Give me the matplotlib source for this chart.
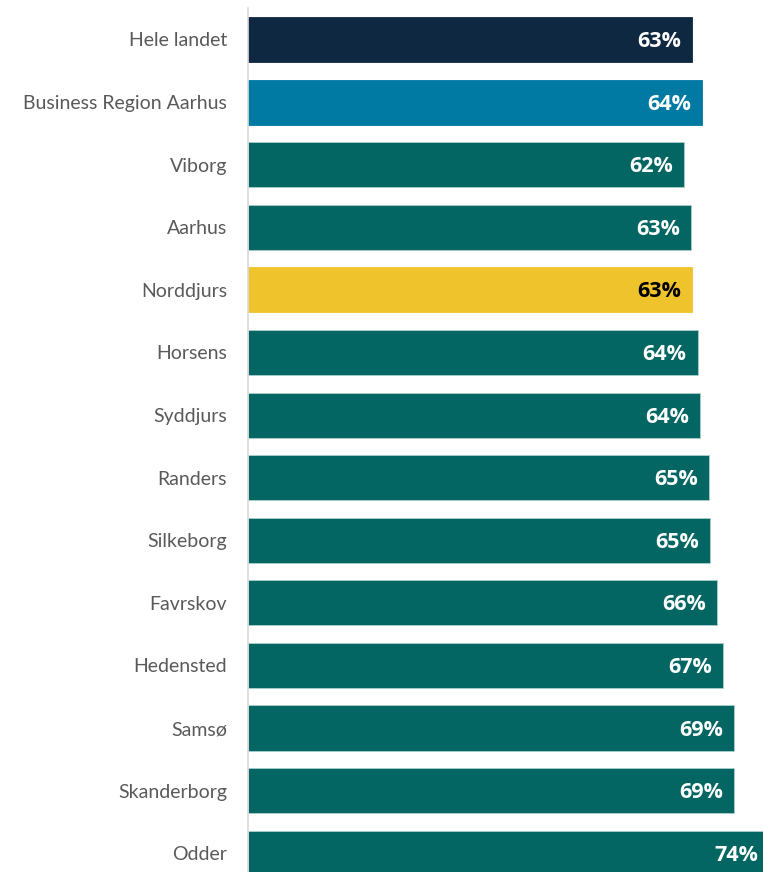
import matplotlib.pyplot as plt
import numpy as np

# data
names = ['Hele landet', 'Business Region Aarhus', 'Viborg', 'Aarhus', 'Norddjurs',
         'Horsens', 'Syddjurs', 'Randers', 'Silkeborg', 'Favrskov', 'Hedensted',
         'Samsø', 'Skanderborg', 'Odder']
values = [62.8, 64.2, 61.7, 62.7, 62.8, 63.6, 63.9, 65.2, 65.3, 66.3, 67.2,
          68.7, 68.7, 73.8]
shown = ['63%', '64%', '62%', '63%', '63%', '64%', '64%', '65%', '65%', '66%',
         '67%', '69%', '69%', '74%']

teal = '#036663'
colors = ['#0f2841', '#007aa3', teal, teal, '#eec32c'] + [teal] * 9
edges = ['#0f2841', '#007aa3', '#a9cfcc', '#a9cfcc', '#eec32c'] + ['#a9cfcc'] * 9
txtcol = ['white', 'white', 'white', 'white', 'black'] + ['white'] * 9

fig = plt.figure(figsize=(7.63, 8.72), dpi=100)
W, H = 763, 872
ax = fig.add_axes([248 / W, 0, (763 - 248) / W, (872 - 8) / H])

y = np.arange(len(names))
ax.barh(y, values, height=0.72, color=colors, edgecolor=edges, linewidth=0.6)
ax.set_xlim(0, 72.85)
ax.set_ylim(13.30, -0.503)

for i, (v, s) in enumerate(zip(values, shown)):
    ax.annotate(s, (v, i), xytext=(-11, -2), textcoords='offset pixels',
                ha='right', va='center', fontsize=15.5, fontweight='bold',
                color=txtcol[i], family='Open Sans', annotation_clip=False)

ax.set_yticks(y)
ax.set_yticklabels(names, fontsize=14, color='#595959', family='Lato')
ax.tick_params(axis='y', length=0, pad=15)
ax.set_xticks([])
for sp in ['top', 'right', 'bottom']:
    ax.spines[sp].set_visible(False)
ax.spines['left'].set_color('#d9d9d9')
ax.spines['left'].set_linewidth(1.2)

fig.savefig('out.png', dpi=100)
